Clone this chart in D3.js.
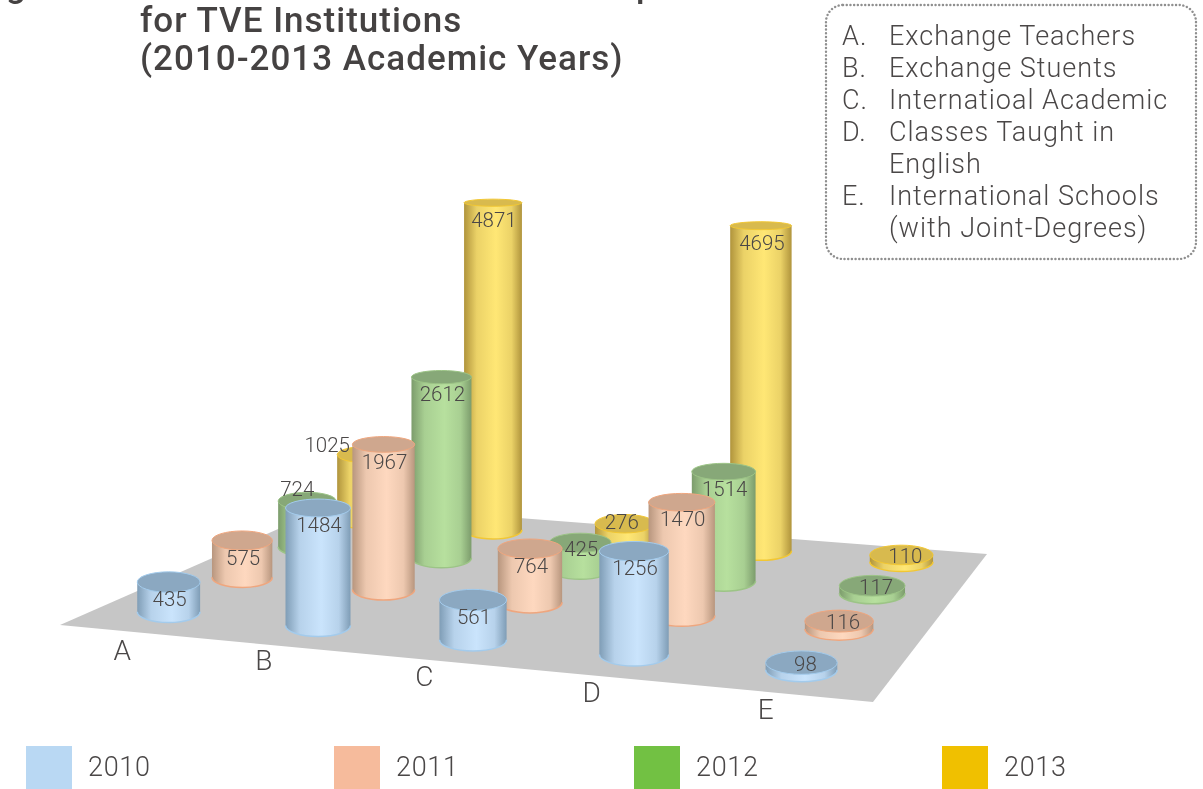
<!DOCTYPE html>
<html>
<head>
<meta charset="utf-8">
<script src="https://cdn.jsdelivr.net/npm/d3@7/dist/d3.min.js"></script>
<style>
    html, body { margin: 0; padding: 0; background: #fff; overflow: hidden; }
    svg { filter: blur(0.4px); }
    text { font-family: Roboto, "Liberation Sans", sans-serif; font-weight: 300; fill: #4a4747; }
    .title { font-weight: 500; font-size: 35px; letter-spacing: 1px; fill: #454242; }
    .key-line, .key-letter { letter-spacing: 1px; }
    .legend text { letter-spacing: 0.7px; }
</style>
</head>
<body>
<div id="chart"></div>
<script>
const categories = ["A", "B", "C", "D", "E"]
const years = ["2010", "2011", "2012", "2013"]
const values2010 = [435, 1484, 561, 1256, 98]
const values2011 = [575, 1967, 764, 1470, 116]
const values2012 = [724, 2612, 425, 1514, 117]
const values2013 = [1025, 4871, 276, 4695, 110]
const seriesValues = [values2010, values2011, values2012, values2013]
const titleLines = ["for TVE Institutions", "(2010-2013 Academic Years)"]
const keyLetters = ["A.", "B.", "C.", "D.", "", "E.", ""]
const keyLines = ["Exchange Teachers", "Exchange Stuents", "Internatioal Academic", "Classes Taught in", "English", "International Schools", "(with Joint-Degrees)"]

// side gradient, lid and rim colours per year
const palette = {
    "2010": { edge: "#7f9db6", mid: "#cae4fc", lid: "#8ba8c1", rim: "#a3cbec", swatch: "#b9d8f3" },
    "2011": { edge: "#b8967e", mid: "#fed8bf", lid: "#cfa78e", rim: "#efa67e", swatch: "#f6bb9c" },
    "2012": { edge: "#7c9c6c", mid: "#b7e09e", lid: "#87a878", rim: "#9cc486", swatch: "#72c143" },
    "2013": { edge: "#b0943c", mid: "#ffe775", lid: "#d8ba4e", rim: "#f2c733", swatch: "#f0c000" }
}

// floor corners as seen in the picture: front-left, front-right, back-right, back-left
const floorCorners = [[60, 625], [873, 702], [987, 554], [335, 504]]

// unit square -> floor quadrilateral
const [[x0, y0], [x1, y1], [x2, y2], [x3, y3]] = floorCorners
const dx1 = x1 - x2, dx2 = x3 - x2, dx3 = x0 - x1 + x2 - x3
const dy1 = y1 - y2, dy2 = y3 - y2, dy3 = y0 - y1 + y2 - y3
const det = dx1 * dy2 - dx2 * dy1
const g = (dx3 * dy2 - dx2 * dy3) / det
const h = (dx1 * dy3 - dx3 * dy1) / det
const project = (u, v) => {
    const w = g * u + h * v + 1
    return {
        x: ((x1 - x0 + g * x1) * u + (x3 - x0 + h * x3) * v + x0) / w,
        y: ((y1 - y0 + g * y1) * u + (y3 - y0 + h * y3) * v + y0) / w,
        depth: 1 / w
    }
}

const u = d3.scalePoint().domain(categories).range([0.09, 0.895])
const uLetter = d3.scalePoint().domain(categories).range([0.125, 0.905])
const v = d3.scalePoint().domain(years).range([0.13, 0.885])
// the perspective of the original squashes the short bars, hence the bends
const heightScale = d3.scaleLinear().domain([0, 600, 1300, 2600, 5000]).range([0, 42, 104, 205, 405])
const radiusScale = d3.scaleLinear().domain([0.5, 1]).range([22, 33])
const lidRadius = d3.scaleLinear().domain([200, 680]).range([3.5, 12])

// labels that do not sit in the usual place on their bar
const labelNudge = { "A-2012": [-10, -12], "A-2013": [-38, -10], "C-2012": [1, 6], "C-2013": [-3, -2] }
const letterNudge = { A: [13, 5] }

const svg = d3.select("#chart").append("svg").attr("width", 1203).attr("height", 789)
const defs = svg.append("defs")

years.forEach(y => {
    const p = palette[y]
    const grad = defs.append("linearGradient").attr("id", "side-" + y)
    grad.append("stop").attr("offset", "0%").attr("stop-color", p.edge)
    grad.append("stop").attr("offset", "22%").attr("stop-color", d3.interpolateRgb(p.edge, p.mid)(0.75))
    grad.append("stop").attr("offset", "55%").attr("stop-color", p.mid)
    grad.append("stop").attr("offset", "82%").attr("stop-color", d3.interpolateRgb(p.edge, p.mid)(0.75))
    grad.append("stop").attr("offset", "100%").attr("stop-color", p.edge)
})

// title, the first line runs off the top of the picture
svg.append("text").attr("class", "title").attr("x", 6).attr("y", -3).text("g")
svg.append("text").attr("class", "title").attr("x", 636).attr("y", -3).text("p")
svg.selectAll(".title-line").data(titleLines).join("text")
    .attr("class", "title title-line")
    .attr("x", 140)
    .attr("y", (d, i) => 32 + i * 38)
    .text(d => d)

// key box
svg.append("rect")
    .attr("x", 826).attr("y", 5).attr("width", 370).attr("height", 254).attr("rx", 17)
    .attr("fill", "none").attr("stroke", "#8f8f8f").attr("stroke-width", 2.4)
    .attr("stroke-dasharray", "0.1 3.6").attr("stroke-linecap", "round")

svg.selectAll(".key-letter").data(keyLetters).join("text")
    .attr("class", "key-letter")
    .attr("x", 842).attr("y", (d, i) => 45 + i * 32)
    .attr("font-size", 27)
    .text(d => d)

svg.selectAll(".key-line").data(keyLines).join("text")
    .attr("class", "key-line")
    .attr("x", 889).attr("y", (d, i) => 45 + i * 32)
    .attr("font-size", 27)
    .text(d => d)

// floor
svg.append("path")
    .attr("d", d3.line()(floorCorners) + "Z")
    .attr("fill", "#c6c6c6")

// bars, painted from the back of the picture to the front
const bars = categories.flatMap((c, i) => years.map((y, j) => {
    const base = project(u(c), v(y))
    const r = radiusScale(base.depth) * (0.96 + u(c) * 0.1)
    const tall = heightScale(seriesValues[j][i]) * base.depth
    const top = base.y - tall
    return { key: c + "-" + y, year: y, value: seriesValues[j][i], x: base.x, base: base.y, top, r, tall,
        ryBase: lidRadius(base.y), ryTop: lidRadius(top) }
})).sort((a, b) => a.base - b.base)

const bar = svg.selectAll(".bar").data(bars).join("g").attr("class", "bar")

bar.append("path")
    .attr("d", d => `M${d.x - d.r},${d.top}V${d.base}A${d.r},${d.ryBase} 0 0 0 ${d.x + d.r},${d.base}V${d.top}Z`)
    .attr("fill", d => `url(#side-${d.year})`)

bar.append("path")
    .attr("d", d => `M${d.x - d.r},${d.base}A${d.r},${d.ryBase} 0 0 0 ${d.x + d.r},${d.base}`)
    .attr("fill", "none")
    .attr("stroke", d => palette[d.year].rim)
    .attr("stroke-width", 1.5)

bar.append("ellipse")
    .attr("cx", d => d.x).attr("cy", d => d.top)
    .attr("rx", d => d.r).attr("ry", d => d.ryTop)
    .attr("fill", d => palette[d.year].lid)
    .attr("stroke", d => palette[d.year].rim)
    .attr("stroke-width", 1)

const labelX = d => labelNudge[d.key] ? labelNudge[d.key][0] : (d.tall < 15 ? 4 : 1)
const labelY = d => labelNudge[d.key] ? labelNudge[d.key][1] : (d.tall < 15 ? 1 : 17)

bar.append("text")
    .attr("x", d => d.x + labelX(d))
    .attr("y", d => d.top + labelY(d))
    .attr("dy", "0.35em")
    .attr("text-anchor", "middle")
    .attr("font-size", 20.5)
    .text(d => d.value)

// category letters in front of the floor
const letterPos = d => project(uLetter(d), -0.13)
const letterShift = (d, i) => letterNudge[d] ? letterNudge[d][i] : 0

svg.selectAll(".cat").data(categories).join("text")
    .attr("class", "cat")
    .attr("x", d => letterPos(d).x + letterShift(d, 0))
    .attr("y", d => letterPos(d).y + letterShift(d, 1))
    .attr("text-anchor", "middle")
    .attr("font-size", 28)
    .text(d => d)

// legend along the bottom
const legendX = d3.scaleOrdinal().domain(years).range([26, 334, 634, 942])
const legend = svg.selectAll(".legend").data(years).join("g").attr("class", "legend")
legend.append("rect")
    .attr("x", d => legendX(d)).attr("y", 746).attr("width", 46).attr("height", 43)
    .attr("fill", d => palette[d].swatch)
legend.append("text")
    .attr("x", d => legendX(d) + 62).attr("y", 776)
    .attr("font-size", 27)
    .text(d => d)
</script>
</body>
</html>
